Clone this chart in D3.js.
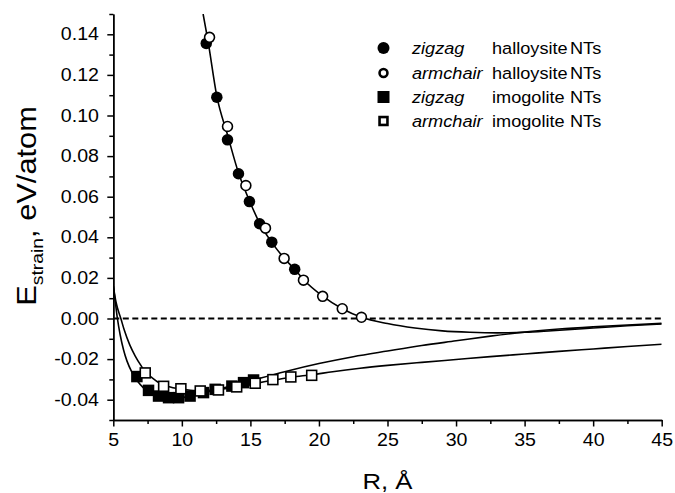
<!DOCTYPE html>
<html>
<head>
<meta charset="utf-8">
<script src="https://cdn.jsdelivr.net/npm/d3@7"></script>
<style>
  body { margin: 0; background: #fff; }
  text { font-family: "Liberation Sans", Arial, sans-serif; fill: #000; }
</style>
</head>
<body>
<svg id="chart" width="675" height="493"></svg>
<script>
// tick values
const xMajor = [5, 10, 15, 20, 25, 30, 35, 40, 45]
const xMinor = [7.5, 12.5, 17.5, 22.5, 27.5, 32.5, 37.5, 42.5]
const yMajor = [-0.04, -0.02, 0.00, 0.02, 0.04, 0.06, 0.08, 0.10, 0.12, 0.14]
const yMinor = [-0.05, -0.03, -0.01, 0.01, 0.03, 0.05, 0.07, 0.09, 0.11, 0.13, 0.15]

// points: [R, E]
const halloZigzag = [
  [11.78, 0.1355], [12.55, 0.109], [13.33, 0.088], [14.13, 0.0713],
  [14.93, 0.0576], [15.67, 0.0467], [16.56, 0.0376], [18.23, 0.0242]
]
const halloArmchair = [
  [12.02, 0.1385], [13.33, 0.0946], [14.67, 0.0655], [16.1, 0.0445],
  [17.46, 0.0296], [18.87, 0.0189], [20.27, 0.0109], [21.7, 0.0048], [23.1, 0.0006]
]
const imoZigzag = [
  [6.72, -0.0286], [7.57, -0.0354], [8.3, -0.0382], [9.03, -0.039],
  [9.76, -0.039], [10.6, -0.0382], [11.58, -0.0365], [12.43, -0.0349],
  [13.65, -0.0333], [14.5, -0.0316], [15.23, -0.0303]
]
const imoArmchair = [
  [7.33, -0.0268], [8.67, -0.0334], [9.93, -0.0346], [11.34, -0.0357],
  [12.67, -0.0352], [14.0, -0.0337], [15.35, -0.0319], [16.64, -0.0301],
  [17.95, -0.0288], [19.47, -0.028]
]

// fitted curves
const halloFit = [
  [11.55, 0.150], [11.9, 0.137], [12.55, 0.1095], [13.33, 0.0905], [14.13, 0.0718],
  [14.93, 0.058], [15.67, 0.047], [16.56, 0.0375], [17.46, 0.0297], [18.23, 0.0243],
  [18.87, 0.0192], [20.27, 0.011], [21.7, 0.0048], [23.1, 0.0006], [25, -0.0025],
  [27, -0.0047], [29, -0.0061], [31, -0.0068], [33, -0.0071], [35, -0.0068],
  [37, -0.006], [40, -0.0047], [42.5, -0.0036], [45, -0.0027]
]
const imoZigzagFit = [
  [5.0, 0.016], [5.15, 0.008], [5.3, 0.0], [5.5, -0.008], [5.75, -0.0155],
  [6.0, -0.021], [6.4, -0.027], [6.8, -0.0312], [7.2, -0.0342], [7.6, -0.0362],
  [8.0, -0.0375], [8.5, -0.0385], [9.0, -0.039], [9.5, -0.0392], [10.0, -0.039],
  [10.5, -0.0385], [11, -0.0377], [12, -0.036], [13, -0.0343], [14, -0.0325],
  [15, -0.0307], [17.5, -0.0262], [20, -0.0222], [22.5, -0.0188], [25, -0.016],
  [27.5, -0.0133], [30, -0.011], [32.5, -0.0087], [35, -0.0067], [37.5, -0.0052],
  [40, -0.0041], [42.5, -0.0032], [45, -0.0024]
]
const imoArmchairFit = [
  [5.0, 0.016], [5.2, 0.008], [5.55, 0.0], [5.8, -0.0057], [6.2, -0.013],
  [6.6, -0.0185], [7.0, -0.023], [7.35, -0.0265], [7.8, -0.029], [8.3, -0.0315],
  [9.0, -0.0335], [10, -0.0348], [11, -0.0355], [12, -0.0354], [13, -0.0347],
  [14, -0.0337], [15, -0.0325], [16, -0.0312], [17, -0.03], [18, -0.0289],
  [19.5, -0.0277], [21, -0.0262], [23, -0.0245], [25, -0.0231], [27.5, -0.0216],
  [30, -0.0202], [32.5, -0.0188], [35, -0.0175], [37.5, -0.0162], [40, -0.015],
  [42.5, -0.0138], [45, -0.0127]
]

// legend
const legendStyle = ['filled circle', 'open circle', 'filled square', 'open square']
const legendKind = ['zigzag', 'armchair', 'zigzag', 'armchair']
const legendTube = ['halloysite', 'halloysite', 'imogolite', 'imogolite']

const svg = d3.select('#chart')
const stretch = 1.12 // the original text is rendered a bit wider than Arial

const x = d3.scaleLinear().domain([5, 45]).range([113.3, 661.7])
const y = d3.scaleLinear().domain([-0.05, 0.15]).range([420, 14])

svg.append('defs').append('clipPath').attr('id', 'plot')
  .append('rect')
  .attr('x', x(5)).attr('y', y(0.15))
  .attr('width', x(45) - x(5)).attr('height', y(-0.05) - y(0.15))

// zero line
svg.append('line')
  .attr('x1', x(5)).attr('x2', x(45))
  .attr('y1', y(0)).attr('y2', y(0))
  .attr('stroke', '#000')
  .attr('stroke-width', 1.8)
  .attr('stroke-dasharray', '6,3.5')

const line = d3.line()
  .x(d => x(d[0]))
  .y(d => y(d[1]))
  .curve(d3.curveMonotoneX)

const curves = svg.append('g').attr('clip-path', 'url(#plot)')
;[halloFit, imoZigzagFit, imoArmchairFit].forEach(c => {
  curves.append('path')
    .attr('d', line(c))
    .attr('fill', 'none')
    .attr('stroke', '#000')
    .attr('stroke-width', 1.6)
})

// axes
function styleAxis (g) {
  g.select('.domain').attr('stroke-width', 1.5)
  g.selectAll('.tick line').attr('stroke-width', 1.5)
  g.selectAll('.tick text')
    .style('font-size', '17.5px')
    .style('font-family', '"Liberation Sans", Arial, sans-serif')
    .attr('fill', '#000')
}

svg.append('g')
  .attr('transform', `translate(0,${y(-0.05)})`)
  .call(d3.axisBottom(x).tickValues(xMinor).tickSize(4).tickSizeOuter(0).tickFormat(''))
  .call(styleAxis)

const xAx = svg.append('g')
  .attr('transform', `translate(0,${y(-0.05)})`)
  .call(d3.axisBottom(x).tickValues(xMajor).tickSize(6.5).tickPadding(7.5).tickSizeOuter(0).tickFormat(d3.format('d')))
  .call(styleAxis)
xAx.selectAll('.tick text').attr('transform', `scale(${stretch},1)`)

svg.append('g')
  .attr('transform', `translate(${x(5)},0)`)
  .call(d3.axisLeft(y).tickValues(yMinor).tickSize(4).tickSizeOuter(0).tickFormat(''))
  .call(styleAxis)

const yAx = svg.append('g')
  .attr('transform', `translate(${x(5)},0)`)
  .call(d3.axisLeft(y).tickValues(yMajor).tickSize(6).tickPadding(6.8).tickSizeOuter(0)
    .tickFormat(d => d3.format('.2f')(d).replace('−', '-')))
  .call(styleAxis)
yAx.selectAll('.tick text').attr('transform', `scale(${stretch},1)`)

// axis titles
svg.append('text')
  .attr('transform', `translate(${(x(5) + x(45)) / 2},489) scale(${stretch},1)`)
  .attr('text-anchor', 'middle')
  .style('font-size', '23px')
  .text('R, Å')

const yTitle = svg.append('text')
  .attr('transform', `translate(36,206) rotate(-90) scale(1.14,1)`)
  .attr('text-anchor', 'middle')
  .style('font-size', '27px')
yTitle.append('tspan').text('E')
yTitle.append('tspan').attr('dy', 7).style('font-size', '17px').text('strain')
yTitle.append('tspan').attr('dy', -7).text(', eV/atom')

// markers
function drawMarker (g, shape, open, cx, cy, size, sw) {
  const fill = open ? '#fff' : '#000'
  if (shape === 'circle') {
    g.append('circle')
      .attr('cx', cx).attr('cy', cy).attr('r', size / 2 - (open ? sw / 2 : 0))
      .attr('fill', fill)
      .attr('stroke', open ? '#000' : 'none')
      .attr('stroke-width', sw)
  } else {
    const s = size - (open ? sw : 0)
    g.append('rect')
      .attr('x', cx - s / 2).attr('y', cy - s / 2)
      .attr('width', s).attr('height', s)
      .attr('fill', fill)
      .attr('stroke', open ? '#000' : 'none')
      .attr('stroke-width', sw)
  }
}

const marks = svg.append('g')
const seriesList = [
  [imoZigzag, 'square', false],
  [imoArmchair, 'square', true],
  [halloZigzag, 'circle', false],
  [halloArmchair, 'circle', true]
]
seriesList.forEach(([pts, shape, open]) => {
  pts.forEach(p => drawMarker(marks, shape, open, x(p[0]), y(p[1]), 11.5, 1.6))
})

// legend
const legend = svg.append('g')
const rowY = [48, 73, 97, 121]
legendStyle.forEach((st, i) => {
  const shape = st.includes('circle') ? 'circle' : 'square'
  const open = st.startsWith('open')
  drawMarker(legend, shape, open, 383.5, rowY[i], open ? 10.5 : 12, 2.6)
  legend.append('text')
    .attr('transform', `translate(412,${rowY[i] + 6}) scale(1.1,1)`)
    .style('font-size', '16.5px')
    .style('font-style', 'italic')
    .text(legendKind[i])
  legend.append('text')
    .attr('transform', `translate(492,${rowY[i] + 6}) scale(1.1,1)`)
    .style('font-size', '16.5px')
    .text(legendTube[i])
  legend.append('text')
    .attr('transform', `translate(570,${rowY[i] + 6}) scale(1.1,1)`)
    .style('font-size', '16.5px')
    .text('NTs')
})
</script>
</body>
</html>
